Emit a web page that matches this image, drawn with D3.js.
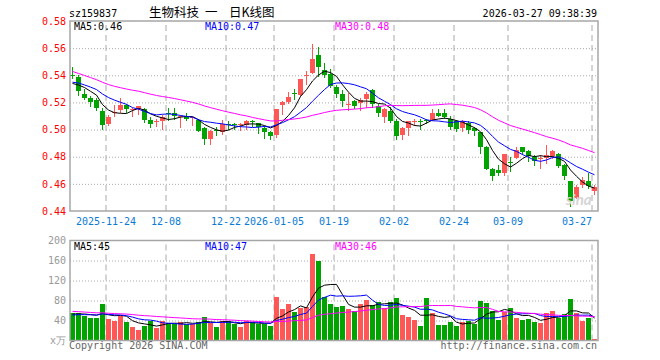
<!DOCTYPE html>
<meta charset="utf-8">

<script src="https://d3js.org/d3.v7.min.js"></script>

<style type="text/css">

body {
  margin: 0;
  background: #fff;
}

text {
  font-family: "DejaVu Sans Mono", "Liberation Mono", monospace;
  font-size: 10px;
}

.grid line {
  stroke: #aaa;
  stroke-width: 1px;
}

.grid path {
  display: none;
}

.hgrid line {
  stroke-dasharray: 1px 2px;
}

.vgrid line {
  stroke-dasharray: 6px 4px;
}

.axis path,
.axis line {
  display: none;
}

.price.axis text {
  fill: #f00;
}

.vol.axis text {
  fill: #999;
}

.date.axis text {
  fill: #0a7ad4;
}

.frame {
  fill: none;
  stroke: #a6a6a6;
  stroke-width: 1.5px;
}

.ma {
  fill: none;
  stroke-width: 1px;
}

</style>

<body>
</body>

<script>

// trading days shown
var dates = [
  '2025-11-14',
  '2025-11-17','2025-11-18','2025-11-19','2025-11-20','2025-11-21',
  '2025-11-24','2025-11-25','2025-11-26','2025-11-27','2025-11-28',
  '2025-12-01','2025-12-02','2025-12-03','2025-12-04','2025-12-05',
  '2025-12-08','2025-12-09','2025-12-10','2025-12-11','2025-12-12',
  '2025-12-15','2025-12-16','2025-12-17','2025-12-18','2025-12-19',
  '2025-12-22','2025-12-23','2025-12-24','2025-12-25','2025-12-26',
  '2025-12-29','2025-12-30','2025-12-31',
  '2026-01-05','2026-01-06','2026-01-07','2026-01-08','2026-01-09',
  '2026-01-12','2026-01-13','2026-01-14','2026-01-15','2026-01-16',
  '2026-01-19','2026-01-20','2026-01-21','2026-01-22','2026-01-23',
  '2026-01-26','2026-01-27','2026-01-28','2026-01-29','2026-01-30',
  '2026-02-02','2026-02-03','2026-02-04','2026-02-05','2026-02-06',
  '2026-02-09','2026-02-10','2026-02-11','2026-02-12','2026-02-13',
  '2026-02-24','2026-02-25','2026-02-26','2026-02-27',
  '2026-03-02','2026-03-03','2026-03-04','2026-03-05','2026-03-06',
  '2026-03-09','2026-03-10','2026-03-11','2026-03-12','2026-03-13',
  '2026-03-16','2026-03-17','2026-03-18','2026-03-19','2026-03-20',
  '2026-03-23','2026-03-24','2026-03-25','2026-03-26','2026-03-27'
];

var opens = [
  0.540,0.539,0.526,0.523,0.522,0.514,0.504,0.512,0.514,0.518,
  0.514,0.515,0.515,0.507,0.505,0.506,0.512,0.512,0.509,0.510,
  0.508,0.507,0.501,0.493,0.500,0.498,0.504,0.504,0.503,0.503,
  0.506,0.505,0.501,0.498,0.496,0.518,0.520,0.527,0.525,0.539,
  0.542,0.555,0.544,0.541,0.531,0.526,0.518,0.521,0.520,0.522,
  0.529,0.517,0.509,0.514,0.506,0.496,0.501,0.505,0.506,0.507,
  0.507,0.512,0.512,0.508,0.506,0.501,0.505,0.501,0.498,0.487,
  0.471,0.470,0.468,0.476,0.479,0.487,0.484,0.480,0.478,0.479,
  0.480,0.482,0.474,0.462,0.450,0.459,0.462,0.455
];

var highs = [
  0.546,0.540,0.530,0.525,0.523,0.516,0.511,0.518,0.523,0.519,
  0.516,0.517,0.516,0.509,0.508,0.511,0.516,0.516,0.511,0.512,
  0.509,0.508,0.502,0.500,0.502,0.507,0.506,0.505,0.505,0.507,
  0.507,0.505,0.503,0.499,0.515,0.521,0.528,0.530,0.537,0.543,
  0.563,0.561,0.549,0.545,0.533,0.529,0.527,0.522,0.523,0.528,
  0.530,0.519,0.516,0.517,0.508,0.502,0.506,0.508,0.508,0.508,
  0.515,0.515,0.515,0.510,0.507,0.507,0.506,0.502,0.498,0.488,
  0.472,0.474,0.482,0.480,0.487,0.487,0.485,0.481,0.481,0.489,
  0.485,0.483,0.475,0.462,0.459,0.465,0.468,0.459
];

var lows = [
  0.537,0.525,0.522,0.517,0.514,0.500,0.503,0.509,0.512,0.512,
  0.509,0.511,0.505,0.501,0.502,0.500,0.506,0.507,0.501,0.506,
  0.503,0.498,0.489,0.489,0.495,0.496,0.500,0.500,0.499,0.500,
  0.502,0.497,0.493,0.492,0.494,0.511,0.519,0.522,0.524,0.533,
  0.541,0.539,0.538,0.531,0.523,0.517,0.514,0.515,0.514,0.516,
  0.516,0.509,0.505,0.505,0.492,0.492,0.495,0.503,0.500,0.504,
  0.506,0.509,0.508,0.500,0.498,0.498,0.497,0.495,0.482,0.470,
  0.462,0.466,0.466,0.469,0.478,0.481,0.476,0.473,0.471,0.475,
  0.478,0.472,0.463,0.443,0.449,0.457,0.456,0.452
];

var closes = [
  0.539,0.529,0.523,0.520,0.516,0.504,0.509,0.513,0.518,0.515,
  0.515,0.517,0.507,0.504,0.506,0.509,0.511,0.510,0.510,0.508,
  0.509,0.499,0.493,0.499,0.499,0.504,0.503,0.503,0.504,0.506,
  0.505,0.502,0.498,0.495,0.515,0.520,0.524,0.526,0.537,0.540,
  0.552,0.546,0.540,0.532,0.526,0.521,0.519,0.517,0.522,0.526,
  0.519,0.512,0.515,0.507,0.495,0.501,0.506,0.506,0.505,0.506,
  0.512,0.510,0.509,0.502,0.500,0.506,0.500,0.499,0.487,0.471,
  0.466,0.468,0.482,0.475,0.485,0.483,0.480,0.477,0.479,0.481,
  0.484,0.473,0.466,0.447,0.458,0.463,0.458,0.458
];

// volume, unit 万
var volumes = [
  56,56,49,46,46,73,43,40,49,38,
  28,21,30,40,25,40,35,33,38,33,
  33,38,47,36,27,40,40,34,27,40,
  38,34,33,29,87,63,73,57,66,67,
  173,160,87,73,68,70,63,60,73,81,
  71,77,65,77,85,51,47,41,29,85,
  55,31,31,37,29,37,39,33,79,75,
  59,41,57,65,45,41,43,37,36,55,
  59,46,53,83,55,39,45,3
];

// closes / volumes before the window, only used so the moving averages start where they do
var priorCloses = [
  0.572,0.568,0.566,0.563,0.561,0.560,
  0.552,0.548,0.545,0.541,0.538,0.540,0.537,0.535,0.533,0.531,
  0.534,0.537,0.536,0.538,0.535,0.537,0.536,0.534,0.537,
  0.535,0.532,0.534,0.530
];

var priorVolumes = [
  75,72,70,68,72,69,
  60,62,55,58,60,57,59,56,61,58,
  56,59,55,58,
  48,50,47,52,48,
  54,50,52,52
];

var priceTicks = [0.44, 0.46, 0.48, 0.50, 0.52, 0.54, 0.56, 0.58];
var volumeTicks = [0, 40, 80, 120, 160, 200];
var tickDates = ['2025-11-24','2025-12-08','2025-12-22','2026-01-05','2026-01-19','2026-02-02','2026-02-24','2026-03-09','2026-03-27'];
var tickLabels = ['2025-11-24','12-08','12-22','2026-01-05','01-19','02-02','02-24','03-09','03-27'];

var maPeriods = [5, 10, 30];
var maColors = ['#000', '#00f', '#f0f'];
var priceLegend = ['MA5:0.46', 'MA10:0.47', 'MA30:0.48'];
var volumeLegend = ['MA5:45', 'MA10:47', 'MA30:46'];

var red = '#ff5656';
var green = '#00a300';

var width = 660, height = 360;
var left = 70, right = 598;
var pTop = 21, pBottom = 211;
var vTop = 240.5, vBottom = 340.5;

var svg = d3.select('body').append('svg')
  .attr('width', width)
  .attr('height', height);

// scales
var xScale = d3.scaleBand()
  .domain(dates)
  .range([left, right]);

var bw = xScale.bandwidth() - 1;

var yScale = d3.scaleLinear()
  .domain([0.44, 0.58])
  .range([pBottom, pTop]);

var vScale = d3.scaleLinear()
  .domain([0, 200])
  .range([vBottom, vTop]);

var data = dates.map(function(d, i) {
  return {date: d, open: opens[i], high: highs[i], low: lows[i], close: closes[i], volume: volumes[i]};
});

// grid lines
function drawGrid(top, bottom, scale, ticks) {
  svg.append('g')
    .attr('class', 'grid hgrid')
    .attr('transform', 'translate(' + left + ',0)')
    .call(d3.axisLeft(scale).tickValues(ticks).tickSize(-(right - left)).tickFormat(''));

  svg.append('g')
    .attr('class', 'grid vgrid')
    .attr('transform', 'translate(' + (-xScale.bandwidth() / 2) + ',' + bottom + ')')
    .call(d3.axisBottom(xScale).tickValues(tickDates).tickSize(-(bottom - top)).tickFormat(''));
}

drawGrid(pTop, pBottom, yScale, priceTicks.slice(1, -1));
drawGrid(vTop, vBottom, vScale, volumeTicks.slice(1, -1));

// candles
var candle = svg.selectAll('.candle')
  .data(data).enter().append('g')
  .attr('class', 'candle')
  .attr('shape-rendering', 'crispEdges')
  .style('fill', function(d) { return d.close >= d.open ? red : green; })
  .style('stroke', function(d) { return d.close >= d.open ? red : green; });

candle.append('line')
  .attr('x1', function(d) { return xScale(d.date) + 2.5; })
  .attr('x2', function(d) { return xScale(d.date) + 2.5; })
  .attr('y1', function(d) { return yScale(d.high); })
  .attr('y2', function(d) { return yScale(d.low); });

candle.append('rect')
  .attr('x', function(d) { return xScale(d.date); })
  .attr('width', bw)
  .attr('y', function(d) { return Math.round(yScale(Math.max(d.open, d.close))); })
  .attr('height', function(d) { return Math.max(1, Math.round(Math.abs(yScale(d.open) - yScale(d.close)))); })
  .style('stroke', 'none');

// volume bars
svg.selectAll('.volBar')
  .data(data).enter().append('rect')
  .attr('class', 'volBar')
  .attr('shape-rendering', 'crispEdges')
  .attr('x', function(d) { return xScale(d.date); })
  .attr('width', bw)
  .attr('y', function(d) { return vScale(d.volume); })
  .attr('height', function(d) { return vBottom - vScale(d.volume); })
  .style('fill', function(d) { return d.close >= d.open ? red : green; });

// moving averages
function movingAverage(all, offset, n) {
  return dates.map(function(d, i) {
    var k = i + offset;
    return {date: d, value: d3.mean(all.slice(k - n + 1, k + 1))};
  });
}

var allCloses = priorCloses.concat(closes);
var allVolumes = priorVolumes.concat(volumes);

maPeriods.forEach(function(n, j) {
  var priceLine = d3.line()
    .x(function(d) { return xScale(d.date) + 2.5; })
    .y(function(d) { return yScale(d.value); });

  svg.append('path')
    .attr('class', 'ma')
    .attr('d', priceLine(movingAverage(allCloses, priorCloses.length, n)))
    .style('stroke', maColors[j]);

  var volLine = d3.line()
    .x(function(d) { return xScale(d.date) + 2.5; })
    .y(function(d) { return vScale(d.value); });

  svg.append('path')
    .attr('class', 'ma')
    .attr('d', volLine(movingAverage(allVolumes, priorVolumes.length, n)))
    .style('stroke', maColors[j]);
});

// frames
svg.append('rect')
  .attr('class', 'frame')
  .attr('x', left).attr('y', pTop)
  .attr('width', right - left).attr('height', pBottom - pTop);

svg.append('rect')
  .attr('class', 'frame')
  .attr('x', left).attr('y', vTop)
  .attr('width', right - left).attr('height', vBottom - vTop);

// axes
svg.append('g')
  .attr('class', 'price axis')
  .attr('transform', 'translate(' + left + ',0)')
  .call(d3.axisLeft(yScale).tickValues(priceTicks).tickSize(0).tickPadding(4).tickFormat(d3.format('.2f')));

svg.append('g')
  .attr('class', 'vol axis')
  .attr('transform', 'translate(' + left + ',0)')
  .call(d3.axisLeft(vScale).tickValues(volumeTicks).tickSize(0).tickPadding(4)
    .tickFormat(function(d) { return d === 0 ? 'x万' : d; }));

var dateAxis = svg.append('g')
  .attr('class', 'date axis')
  .attr('transform', 'translate(' + (-xScale.bandwidth() / 2) + ',' + (pBottom + 7) + ')')
  .call(d3.axisBottom(xScale).tickValues(tickDates).tickSize(0).tickPadding(0)
    .tickFormat(function(d, i) { return tickLabels[i]; }));

dateAxis.selectAll('text')
  .attr('dy', '0.71em')
  .filter(function(d, i) { return i === tickDates.length - 1; })
  .attr('text-anchor', 'end');

// legends
var legendX = [74, 205, 335];

svg.selectAll('.priceLegend')
  .data(priceLegend).enter().append('text')
  .attr('class', 'priceLegend')
  .attr('x', function(d, i) { return legendX[i]; })
  .attr('y', 30)
  .style('fill', function(d, i) { return maColors[i]; })
  .text(function(d) { return d; });

svg.selectAll('.volLegend')
  .data(volumeLegend).enter().append('text')
  .attr('class', 'volLegend')
  .attr('x', function(d, i) { return legendX[i]; })
  .attr('y', 250)
  .style('fill', function(d, i) { return maColors[i]; })
  .text(function(d) { return d; });

// header
svg.append('text')
  .attr('x', 69).attr('y', 17)
  .text('sz159837');

var titleParts = [['生物科技', 149], ['一', 205], ['日K线图', 229]];

svg.selectAll('.titlePart')
  .data(titleParts).enter().append('text')
  .attr('class', 'titlePart')
  .attr('x', function(d) { return d[1]; })
  .attr('y', 17)
  .style('font-family', '"Noto Sans CJK SC", sans-serif')
  .style('font-size', '12.5px')
  .text(function(d) { return d[0]; });

svg.append('text')
  .attr('x', 597).attr('y', 17)
  .attr('text-anchor', 'end')
  .text('2026-03-27 09:38:39');

// watermark
svg.append('text')
  .attr('x', 566).attr('y', 205)
  .style('font-family', 'Lato, sans-serif')
  .style('font-size', '15px')
  .style('font-style', 'italic')
  .style('font-weight', 'bold')
  .style('fill', '#d4d4d4')
  .text('sina');

// footer
svg.append('text')
  .attr('x', 69).attr('y', 349)
  .style('fill', '#666')
  .text('Copyright 2026 SINA.COM');

svg.append('text')
  .attr('x', 597).attr('y', 349)
  .attr('text-anchor', 'end')
  .style('fill', '#666')
  .text('http://finance.sina.com.cn');

</script>
